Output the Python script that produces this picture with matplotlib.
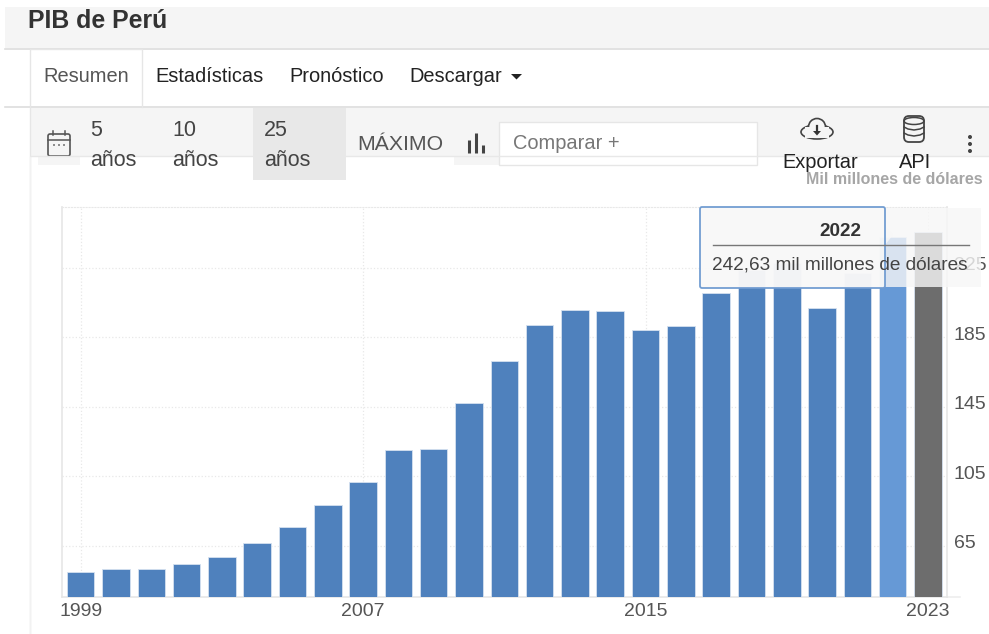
import matplotlib
matplotlib.use('Agg')
import matplotlib.pyplot as plt
from matplotlib.patches import Rectangle, Polygon, Circle, FancyBboxPatch, Ellipse
from matplotlib.transforms import ScaledTranslation

plt.rcParams['font.family'] = ['Liberation Sans', 'DejaVu Sans']

years = list(range(1999, 2024))
gdp = [50.2, 51.6, 51.6, 54.8, 58.5, 66.9, 76.1, 88.3, 101.8, 120.0, 120.8, 147.3, 171.2,
       192.2, 200.5, 200.0, 189.3, 191.6, 210.8, 224.0, 228.0, 201.6, 222.0, 242.63, 245.5]
y_ticks = [65, 105, 145, 185, 225]
x_ticks = [1999, 2007, 2015, 2023]
tabs = ['Estadísticas', 'Pronóstico', 'Descargar']
tab_x = [155, 289, 409]

W, H = 989, 634
fig = plt.figure(figsize=(W / 100, H / 100), dpi=100)

# page furniture, in pixel coordinates
bg = fig.add_axes([0, 0, 1, 1], zorder=0)
bg.set_xlim(0, W)
bg.set_ylim(H, 0)
bg.axis('off')

def box(ax, x0, y0, x1, y1, **kw):
    kw.setdefault('lw', 0)
    ax.add_patch(Rectangle((x0, y0), x1 - x0, y1 - y0, **kw))

box(bg, 5, 7, 989, 48, fc='#f5f5f5')
bg.plot([5, 989], [48.5, 48.5], color='#dddddd', lw=1.2)
bg.plot([5, 989], [107, 107], color='#dddddd', lw=1.2)
bg.text(28, 21.5, 'PIB de Perú', fontsize=17.9, fontweight='bold', color='#333333', va='center')

box(bg, 30, 49, 142, 108, fc='white')
bg.plot([30, 30, 142, 142], [634, 49, 49, 107], color='#e6e6e6', lw=1)
bg.plot([30, 30], [157, 634], color='#f2f2f2', lw=1)
bg.text(43, 77, 'Resumen', fontsize=14.4, color='#555555', va='center')
for t, x in zip(tabs, tab_x):
    bg.text(x, 77, t, fontsize=14.4, color='#222222', va='center')
bg.add_patch(Polygon([[511, 74], [522, 74], [516.5, 79.5]], fc='#222222', lw=0))

# toolbar
box(bg, 31, 108, 989, 156, fc='#f5f5f5')
bg.plot([31, 989], [156, 156], color='#e8e8e8', lw=1)
box(bg, 38, 156, 80, 165, fc='#f5f5f5')
box(bg, 253, 108, 346, 180, fc='#e8e8e8')
box(bg, 454, 156, 499, 165, fc='#f5f5f5')
box(bg, 499, 122, 757, 165, fc='white', ec='#e6e6e6', lw=1)

# calendar icon
bg.add_patch(FancyBboxPatch((48, 134), 22, 22, boxstyle='round,pad=0,rounding_size=2',
                            fc='none', ec='#555555', lw=1.2))
bg.plot([48, 70], [139.5, 139.5], color='#555555', lw=1.1)
for x in (53, 65):
    bg.plot([x, x], [131, 135], color='#555555', lw=1.1)
for x in (54, 59, 64):
    bg.add_patch(Circle((x, 145), 0.9, fc='#555555', lw=0))

for x, n in zip((90, 172, 264), ('5', '10', '25')):
    bg.text(x, 130.5, n, fontsize=15.5, color='#444444', va='center')
    bg.text(x, 160.5, 'años', fontsize=15.5, color='#444444', va='center')
bg.text(357, 144.5, 'MÁXIMO', fontsize=15.3, color='#555555', va='center')

# little bar icon
for x, top in zip((469, 476, 483), (140, 133, 145)):
    bg.plot([x, x], [153, top], color='#444444', lw=2.2, solid_capstyle='butt')
bg.text(513, 143.5, 'Comparar +', fontsize=14.4, color='#777777', va='center')

# cloud icon
bg.add_patch(Ellipse((817, 132), 32, 14, fc='none', ec='#444444', lw=1.2))
bg.add_patch(Circle((817, 127), 8.5, fc='#f5f5f5', ec='#444444', lw=1.2))
box(bg, 805, 127, 829, 138, fc='#f5f5f5')
bg.add_patch(Polygon([[813, 131], [821, 131], [817, 135.5]], fc='#333333', lw=0))
bg.plot([817, 817], [126, 132], color='#333333', lw=1.6)
bg.text(820, 162.5, 'Exportar', fontsize=14.4, color='#222222', ha='center', va='center')

# database icon
bg.add_patch(FancyBboxPatch((904, 116), 20, 26, boxstyle='round,pad=0,rounding_size=5',
                            fc='none', ec='#444444', lw=1.3))
bg.add_patch(Ellipse((914, 121), 20, 7, fc='none', ec='#444444', lw=1.1))
for y in (129, 135):
    bg.plot([904, 908, 914, 920, 924], [y - 2, y, y + 1, y, y - 2], color='#444444', lw=1.1)
bg.text(915.5, 162.5, 'API', fontsize=14.4, color='#222222', ha='center', va='center')

for y in (137, 144, 151):
    bg.add_patch(Circle((970, y), 2, fc='#444444', lw=0))

bg.text(983, 179.5, 'Mil millones de dólares', fontsize=11.5, fontweight='bold',
        color='#a6a6a6', ha='right', va='center')

# chart
left, right, top, bottom = 62, 947, 207, 597
ax = fig.add_axes([left / W, 1 - bottom / H, (right - left) / W, (bottom - top) / H], zorder=1)
ax.patch.set_alpha(0)
colors = ['#4f81bd'] * len(years)
colors[-2] = '#6699d6'
colors[-1] = '#6d6d6d'
ax.bar(years, gdp, width=0.78, color=colors, edgecolor='#d5e1f0', linewidth=0.6, zorder=3)
ax.set_xlim(1998.47, 2023.54)
ax.set_ylim(35.6, 260)
ax.yaxis.tick_right()
ax.set_yticks(y_ticks)
ax.set_xticks(x_ticks)
ax.tick_params(length=0, labelsize=14, labelcolor='#555555')
ax.tick_params(axis='x', pad=4)
ax.tick_params(axis='y', pad=5)
ax.grid(True, color='#e8e8e8', linestyle=':', linewidth=0.9, zorder=0)
# the value labels sit a little above their gridlines
up = ScaledTranslation(0, 4 / 100, fig.dpi_scale_trans)
for lab in ax.get_yticklabels():
    lab.set_transform(lab.get_transform() + up)
ax.spines['top'].set_color('#e8e8e8')
ax.spines['top'].set_linestyle(':')
for s in ('left', 'right', 'bottom'):
    ax.spines[s].set_color('#e6e6e6')
    ax.spines[s].set_linewidth(1.2)
bg.plot([947, 960], [597, 597], color='#eeeeee', lw=1.2)

# tooltip sits over the bars
over = fig.add_axes([0, 0, 1, 1], zorder=2)
over.set_xlim(0, W)
over.set_ylim(H, 0)
over.axis('off')
box(over, 885, 208, 981, 287, fc='#f7f7f7', alpha=0.8)
over.add_patch(Polygon([[885, 226], [893, 235], [885, 245]], fc='#f7f7f7', alpha=0.85, lw=0))
over.add_patch(FancyBboxPatch((700, 207), 185, 81, boxstyle='round,pad=0,rounding_size=2',
                              fc='#f8f8f8', ec='#6f9bd1', lw=1.3, alpha=0.97))
over.text(840, 231, '2022', fontsize=13.7, fontweight='bold', color='#333333', ha='center', va='center')
over.plot([713, 969], [244.5, 244.5], color='#777777', lw=1)
over.text(712, 265, '242,63 mil millones de dólares', fontsize=13.7, color='#444444', va='center')

fig.savefig('out.png', dpi=100)
